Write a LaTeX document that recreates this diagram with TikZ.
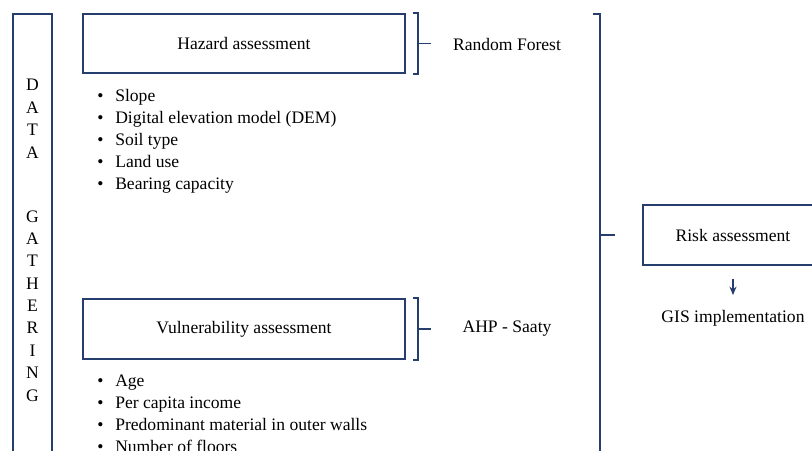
\documentclass[tikz,border=0pt]{standalone}
\usepackage{fontspec}
\setmainfont{Liberation Serif}
\usetikzlibrary{positioning,calc,arrows.meta}
\definecolor{navy}{RGB}{38,62,110}
\newcommand\itemdot{\makebox[12.8pt][l]{\textbullet}}
\begin{document}
\begin{tikzpicture}[x=0.025cm, y=-0.025cm,
		box/.style={draw=navy, line width=1.2pt, inner sep=0pt},
		brace/.style={draw=navy, line width=1.2pt},
		txt/.style={font=\fontsize{12.5}{15}\selectfont},
		letters/.style={font=\fontsize{12.5}{15.9}\selectfont, align=center, inner sep=0pt},
		list/.style={font=\fontsize{12.5}{15.5}\selectfont, align=left, inner sep=0pt}]
		\useasboundingbox (0,0) rectangle (812,450);
		\clip (0,0) rectangle (812,450);
		% Data gathering column
		\node[box, minimum width=0.975cm, minimum height=11.65cm] (data) at (32.5,247) {};
		\node[letters, anchor=base] (datatxt) at (32.5,158) {D\\A\\T\\A};
		\node[letters, anchor=base] (gathtxt) at (32.5,401) {G\\A\\T\\H\\E\\R\\I\\N\\G};
		% Hazard
		\node[box, txt, minimum width=8.05cm, minimum height=1.475cm] (hazard) at (244,43.5) {Hazard assessment};
		\node[list, anchor=base west] (hazlist) at (97,189) {\itemdot Slope\\\itemdot Digital elevation model (DEM)\\\itemdot Soil type\\\itemdot Land use\\\itemdot Bearing capacity};
		\draw[brace] ($(hazard.north east)+(7,0)$) -- ++(5,0) -- ($(hazard.south east)+(12,0)$) -- ++(-5,0);
		\draw[brace] ($(hazard.east)+(12,0)$) -- ++(13,0);
		\node[txt] (rf) at (507,44) {Random Forest};
		% Vulnerability
		\node[box, txt, minimum width=8.05cm, minimum height=1.5cm] (vul) at (244,329) {Vulnerability assessment};
		\node[list, anchor=base west] (vullist) at (97,452) {\itemdot Age\\\itemdot Per capita income\\\itemdot Predominant material in outer walls\\\itemdot Number of floors};
		\draw[brace] ($(vul.north east)+(7,0)$) -- ++(5,0) -- ($(vul.south east)+(12,0)$) -- ++(-5,0);
		\draw[brace] ($(vul.east)+(12,0)$) -- ++(13,0);
		\node[txt] (ahp) at (507,329) {AHP - Saaty};
		% Risk
		\node[box, txt, minimum width=4.5cm, minimum height=1.5cm] (risk) at (733,235) {Risk assessment};
		\node[txt] (gis) at (733,318) {GIS implementation};
		\coordinate (bigtop) at (593,14);
		\coordinate (bigbar) at (600,14);
		\draw[brace] (bigtop) -- (bigbar) -- ++(0,470);
		\draw[brace] (risk.west -| bigbar) -- ++(15,0);
		\draw[brace, -{Stealth[length=6pt, width=5pt]}, shorten <=0.325cm, shorten >=0.25cm] (risk) -- (gis);
	\end{tikzpicture}
\end{document}
